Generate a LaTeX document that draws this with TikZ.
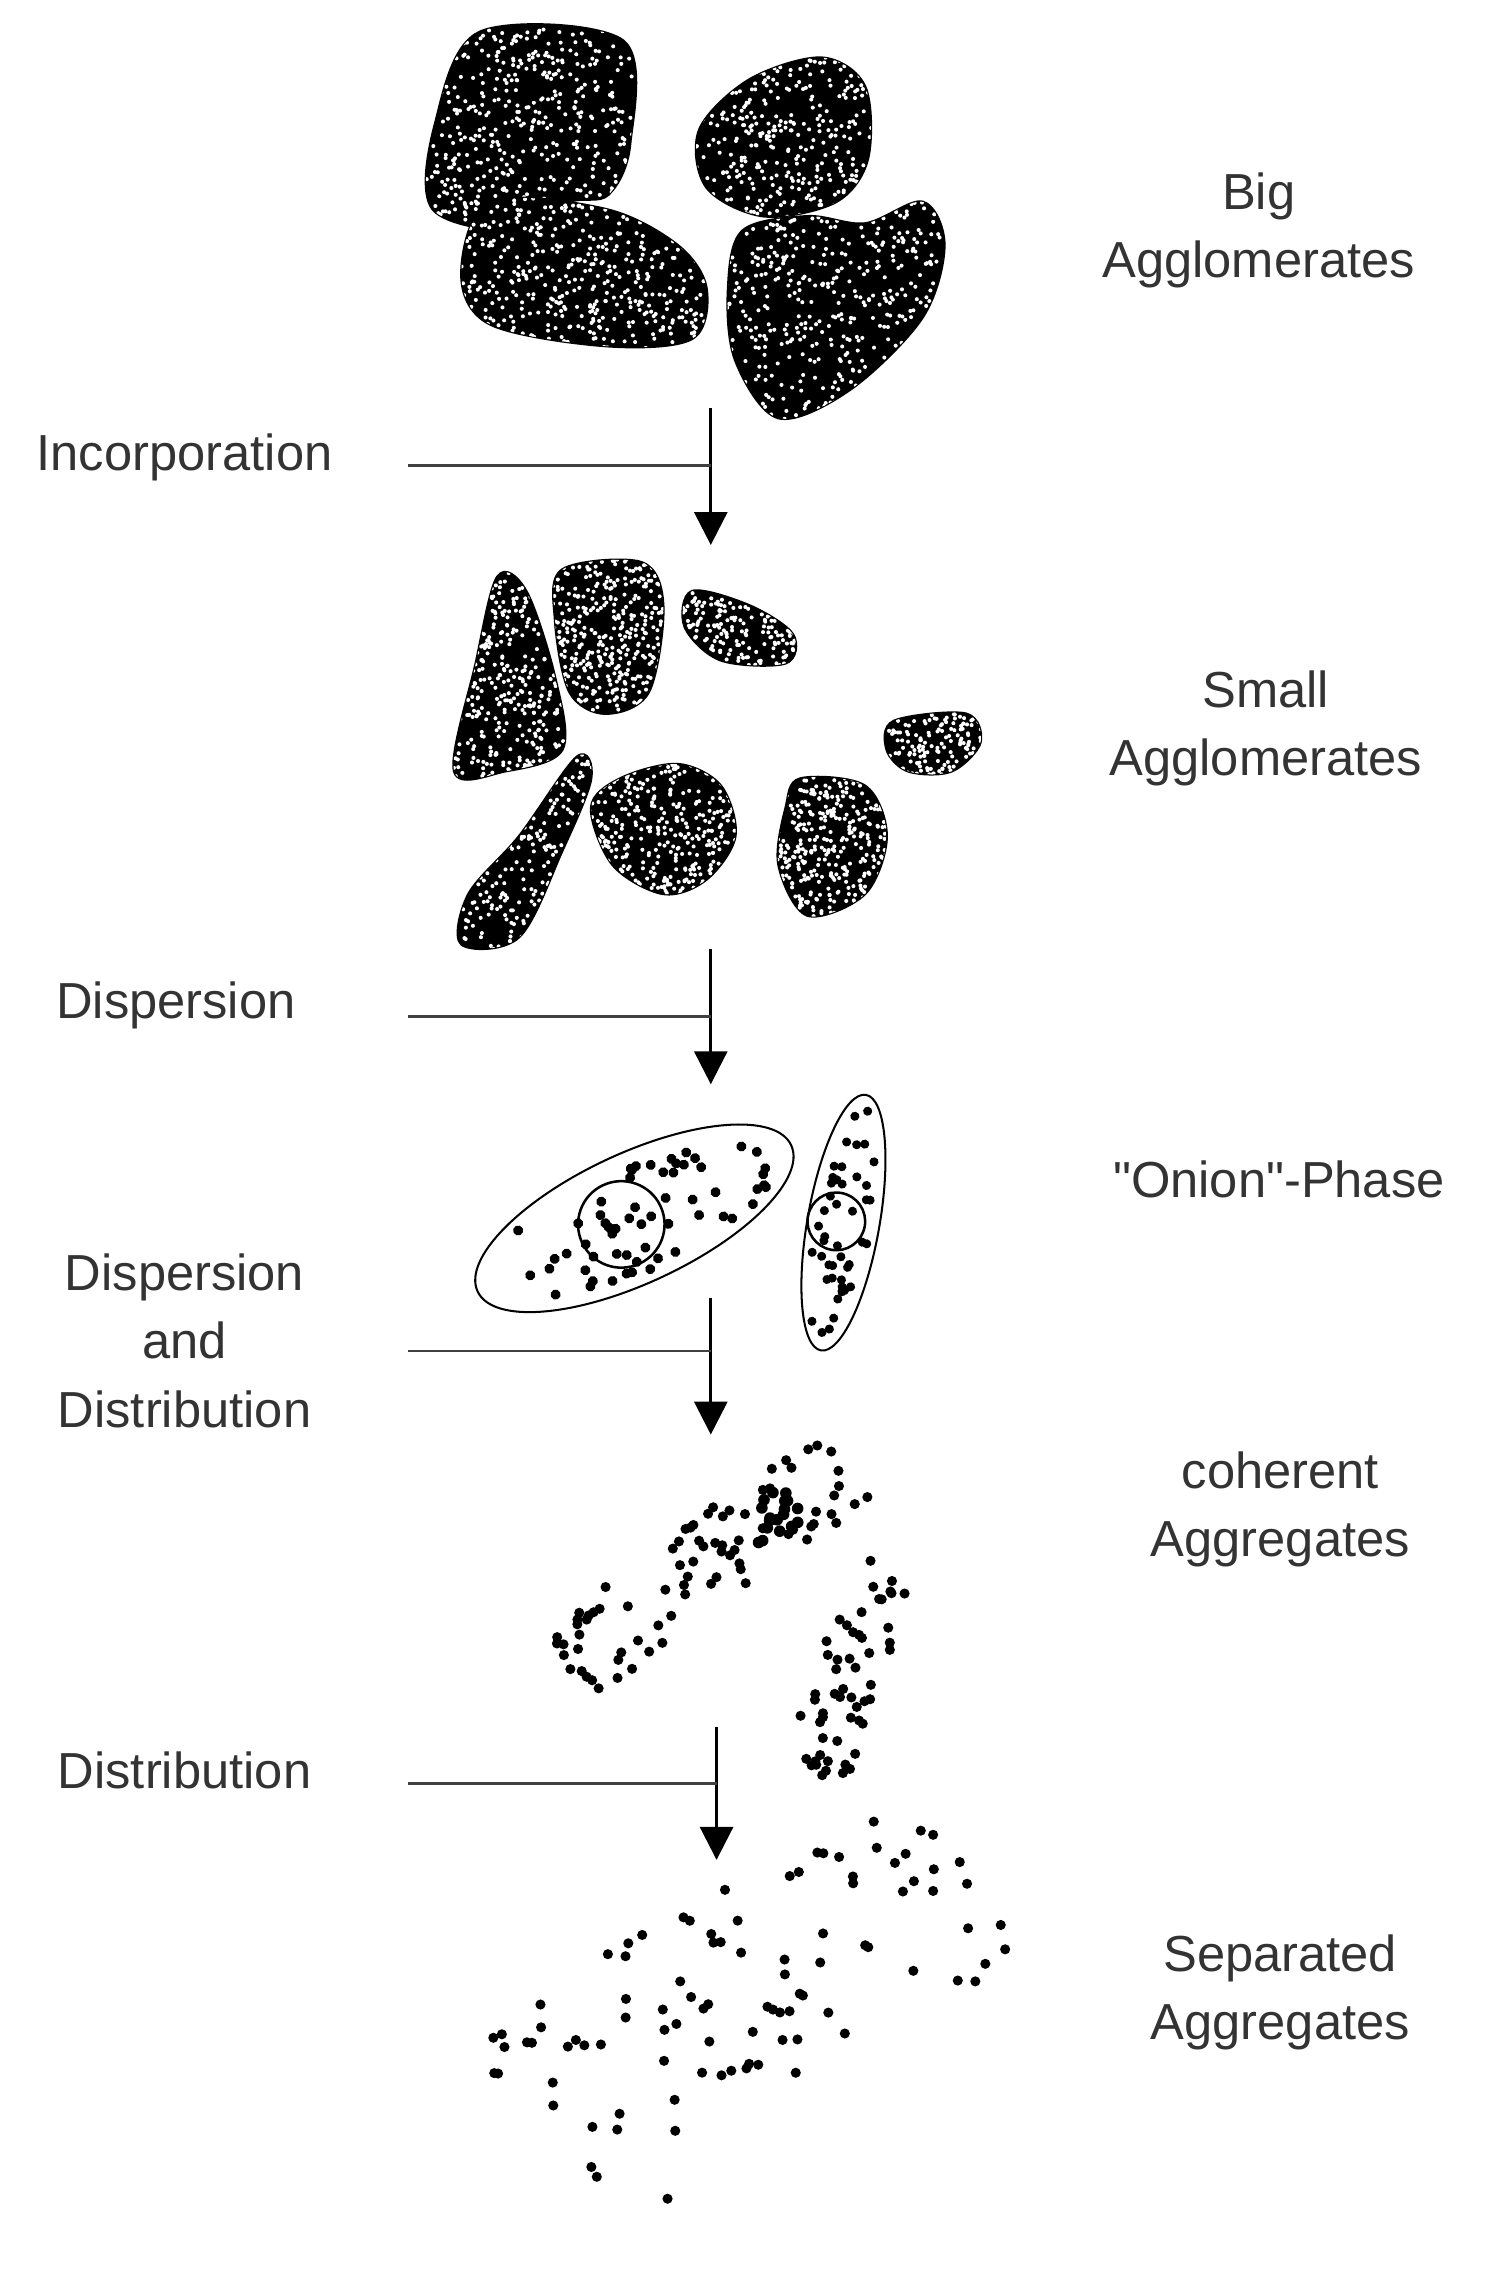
\documentclass[tikz,border=0pt]{standalone}
\usepackage{fontspec}
\setmainfont{Liberation Sans}
\usetikzlibrary{arrows.meta}
\newcommand\speckblob[6]{%
 \fill[black,draw=black,line width=1pt] plot[smooth cycle,tension=0.55] coordinates {#1};
 \begin{scope}
 \clip plot[smooth cycle,tension=0.55] coordinates {#1};
 \foreach \i in {1,...,#2} {
   \pgfmathsetmacro\px{#3+(#4-#3)*rnd}
   \pgfmathsetmacro\py{#5+(#6-#5)*rnd}
   \fill[white] (\px,\py) circle[radius=0.8pt];
 }
 \end{scope}}
\begin{document}
\begin{tikzpicture}[x=0.02cm,y=-0.02cm,
  lab/.style={font=\fontsize{20}{27}\selectfont,align=center,text=black!80},
  conn/.style={line width=1pt,black!75},
  arr/.style={line width=1.2pt,-{Triangle[width=13pt,length=13pt]}},
  dot/.style={fill=black}]
\useasboundingbox (0,0) rectangle (1045,1580);
\pgfmathsetseed{7}
% big agglomerates
\speckblob{(333,22)(432,28)(437,100)(422,135)(395,140)(360,160)(300,145)(302,85)}{500}{295}{440}{20}{165}
\speckblob{(340,140)(420,145)(470,170)(490,200)(480,235)(420,240)(340,225)(320,190)}{500}{315}{495}{135}{245}
\speckblob{(520,55)(570,40)(600,60)(602,110)(580,140)(530,150)(490,130)(485,90)}{400}{480}{605}{35}{155}
\speckblob{(515,160)(560,150)(600,155)(640,140)(655,170)(640,220)(590,270)(540,290)(510,250)(505,200)}{550}{500}{660}{135}{295}
% small agglomerates
\speckblob{(345,400)(365,410)(385,470)(390,520)(350,535)(315,535)(330,460)}{450}{310}{395}{395}{540}
\speckblob{(390,395)(445,390)(460,420)(450,480)(420,495)(395,480)(385,430)}{450}{380}{465}{385}{500}
\speckblob{(480,410)(520,420)(550,440)(545,460)(500,458)(475,435)}{250}{470}{555}{405}{465}
\speckblob{(620,500)(670,495)(680,515)(660,535)(630,535)(615,520)}{200}{610}{685}{490}{540}
\speckblob{(400,525)(410,540)(390,590)(360,650)(320,655)(325,620)(360,580)}{400}{315}{415}{520}{660}
\speckblob{(430,540)(470,530)(500,545)(510,580)(490,610)(460,620)(425,600)(410,560)}{450}{405}{515}{525}{625}
\speckblob{(555,540)(600,545)(615,580)(600,620)(560,635)(540,600)(545,560)}{450}{535}{620}{535}{640}
% onion phase
\begin{scope}[shift={(440,845)},rotate=25]
 \draw[line width=0.8pt] (0,0) ellipse[x radius=2.4cm,y radius=0.9cm];
 \draw[line width=1pt] (-10,0) circle[radius=0.6cm];
 \foreach \i in {1,...,60} {
   \pgfmathsetmacro\r{sqrt(rnd)}\pgfmathsetmacro\a{360*rnd}
   \fill ({\r*108*cos(\a)},{\r*38*sin(\a)}) circle[radius=2pt];}
\end{scope}
\begin{scope}[shift={(585,848)},rotate=-10]
 \draw[line width=0.8pt] (0,0) ellipse[x radius=0.5cm,y radius=1.8cm];
 \draw[line width=1pt] (-5,0) circle[radius=0.4cm];
 \foreach \i in {1,...,45} {
   \pgfmathsetmacro\r{sqrt(rnd)}\pgfmathsetmacro\a{360*rnd}
   \fill ({\r*20*cos(\a)},{\r*82*sin(\a)}) circle[radius=1.8pt];}
\end{scope}
% coherent aggregates
\foreach \i in {1,...,80} {
  \pgfmathsetmacro\t{rnd}\pgfmathsetmacro\s{rnd-0.5}
  \fill ({390+200*\t+0.57*60*\s},{1155-140*\t+0.82*60*\s}) circle[radius=2pt];}
\foreach \i in {1,...,18} {
  \pgfmathsetmacro\px{525+30*rnd}\pgfmathsetmacro\py{1035+35*rnd}
  \fill (\px,\py) circle[radius=2.3pt];}
\foreach \i in {1,...,55} {
  \pgfmathsetmacro\t{rnd}\pgfmathsetmacro\s{rnd-0.5}
  \fill ({615-50*\t+0.95*45*\s},{1080+150*\t+0.33*45*\s}) circle[radius=2pt];}
% separated aggregates
\foreach \i in {1,...,95} {
  \pgfmathsetmacro\t{rnd}\pgfmathsetmacro\s{rnd-0.5}
  \fill ({350+330*\t+0.46*140*\s},{1465-165*\t+0.89*140*\s}) circle[radius=2pt];}
\node[circle,fill,inner sep=0pt,minimum size=4pt] (stray) at (463,1525) {};
% labels
\node[lab] (big) at (873,160) {Big\\Agglomerates};
\node[lab] (small) at (878,505) {Small\\Agglomerates};
\node[lab] (onion) at (887,818) {\addfontfeatures{Ligatures=TeXOff}"Onion"-Phase};
\node[lab] (coh) at (888,1047) {coherent\\Aggregates};
\node[lab] (sep) at (888,1382) {Separated\\Aggregates};
\node[lab] (inc) at (128,317) {Incorporation};
\node[lab] (disp) at (122,697) {Dispersion};
\node[lab] (dd) at (128,930) {Dispersion\\and\\Distribution};
\node[lab] (dist) at (128,1228) {Distribution};
% arrows
\coordinate (a1s) at (493,283); \coordinate (a1e) at (493,378);
\coordinate (h1) at (283,323); \coordinate (j1) at (493,323);
\coordinate (a2s) at (493,658); \coordinate (a2e) at (493,752);
\coordinate (h2) at (283,705); \coordinate (j2) at (493,705);
\coordinate (a3s) at (493,900); \coordinate (a3e) at (493,995);
\coordinate (h3) at (283,937); \coordinate (j3) at (493,937);
\coordinate (a4s) at (497,1198); \coordinate (a4e) at (497,1290);
\coordinate (h4) at (283,1237); \coordinate (j4) at (497,1237);
\draw[arr] (a1s) -- (a1e); \draw[conn] (h1) -- (j1);
\draw[arr] (a2s) -- (a2e); \draw[conn] (h2) -- (j2);
\draw[arr] (a3s) -- (a3e); \draw[conn] (h3) -- (j3);
\draw[arr] (a4s) -- (a4e); \draw[conn] (h4) -- (j4);
\end{tikzpicture}
\end{document}
